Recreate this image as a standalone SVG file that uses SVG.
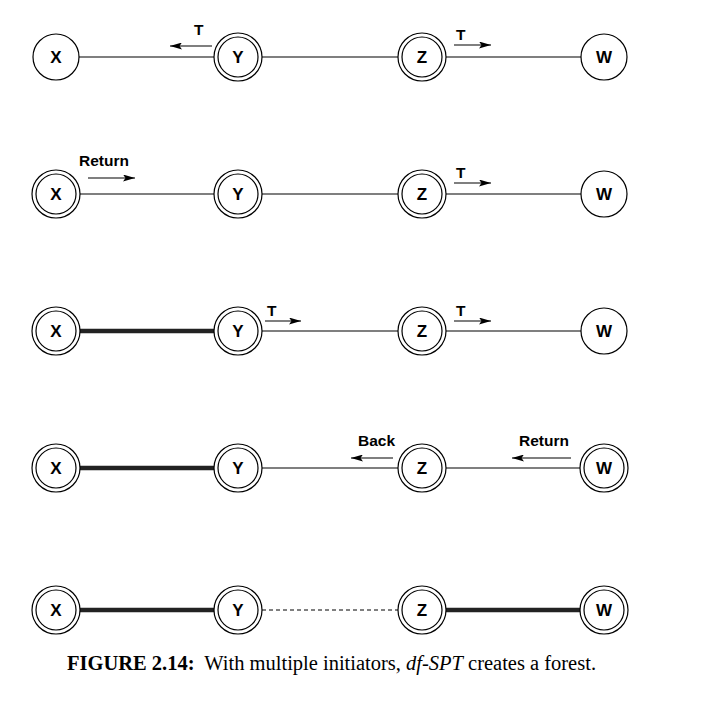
<svg xmlns="http://www.w3.org/2000/svg" width="724" height="707" viewBox="0 0 724 707">
<style>
.o{fill:#fff;stroke:#000;stroke-width:1.2}
.i{fill:none;stroke:#000;stroke-width:1.2}
.n{font-family:"Liberation Sans",Arial,sans-serif;font-weight:bold;font-size:17px;text-anchor:middle;fill:#000}
.l{font-family:"Liberation Sans",Arial,sans-serif;font-weight:bold;font-size:15.5px;fill:#000}
.e{stroke:#000;stroke-width:1.2;fill:none}
.t{stroke:#222;stroke-width:4.5;fill:none}
.d{stroke:#000;stroke-width:1;stroke-dasharray:4,3;fill:none}
.a{stroke:#000;stroke-width:1.2;fill:none;marker-end:url(#ah)}
.c{font-family:"Liberation Serif","Times New Roman",serif;font-size:20.5px;fill:#000}
</style>
<defs>
<marker id="ah" viewBox="0 0 12 7" refX="12" refY="3.5" markerWidth="12" markerHeight="7" markerUnits="userSpaceOnUse" orient="auto">
<path d="M0,0 L12,3.5 L0,7 L2.5,3.5 Z" fill="#000"/>
</marker>
</defs>
<g id="connectors">
<line class="e" x1="79" y1="57" x2="214" y2="57"/>
<line class="e" x1="262" y1="57" x2="398" y2="57"/>
<line class="e" x1="446" y1="57" x2="581" y2="57"/>
<line class="a" x1="212" y1="46" x2="170" y2="46"/>
<line class="a" x1="454" y1="45" x2="491" y2="45"/>
<line class="e" x1="80" y1="194" x2="214" y2="194"/>
<line class="e" x1="262" y1="194" x2="398" y2="194"/>
<line class="e" x1="446" y1="194" x2="581" y2="194"/>
<line class="a" x1="88" y1="178" x2="135" y2="178"/>
<line class="a" x1="454" y1="183" x2="491" y2="183"/>
<line class="t" x1="80" y1="331" x2="214" y2="331"/>
<line class="e" x1="262" y1="331" x2="398" y2="331" stroke="#555"/>
<line class="e" x1="446" y1="331" x2="581" y2="331" stroke="#555"/>
<line class="a" x1="265" y1="321" x2="301" y2="321"/>
<line class="a" x1="454" y1="321" x2="491" y2="321"/>
<line class="t" x1="80" y1="468" x2="214" y2="468"/>
<line class="e" x1="262" y1="468" x2="398" y2="468"/>
<line class="e" x1="446" y1="468" x2="580" y2="468"/>
<line class="a" x1="393" y1="458" x2="351" y2="458"/>
<line class="a" x1="571" y1="458" x2="512" y2="458"/>
<line class="t" x1="80" y1="610" x2="214" y2="610"/>
<line class="d" x1="262" y1="610" x2="398" y2="610"/>
<line class="t" x1="446" y1="610" x2="580" y2="610"/>
</g>
<g id="labels">
<text class="l" x="194" y="35">T</text>
<text class="l" x="456" y="40">T</text>
<text class="l" x="79" y="166">Return</text>
<text class="l" x="456" y="178">T</text>
<text class="l" x="267" y="316">T</text>
<text class="l" x="456" y="316">T</text>
<text class="l" x="358" y="446">Back</text>
<text class="l" x="519" y="446">Return</text>
</g>
<g id="X1"><circle class="o" cx="56" cy="57" r="23"/><text class="n" x="56" y="63">X</text></g>
<g id="Y1"><circle class="o" cx="238" cy="57" r="24"/><circle class="i" cx="238" cy="57" r="20"/><text class="n" x="238" y="63">Y</text></g>
<g id="Z1"><circle class="o" cx="422" cy="57" r="24"/><circle class="i" cx="422" cy="57" r="20"/><text class="n" x="422" y="63">Z</text></g>
<g id="W1"><circle class="o" cx="604" cy="57" r="23"/><text class="n" x="604" y="63">W</text></g>
<g id="X2"><circle class="o" cx="56" cy="194" r="24"/><circle class="i" cx="56" cy="194" r="20"/><text class="n" x="56" y="200">X</text></g>
<g id="Y2"><circle class="o" cx="238" cy="194" r="24"/><circle class="i" cx="238" cy="194" r="20"/><text class="n" x="238" y="200">Y</text></g>
<g id="Z2"><circle class="o" cx="422" cy="194" r="24"/><circle class="i" cx="422" cy="194" r="20"/><text class="n" x="422" y="200">Z</text></g>
<g id="W2"><circle class="o" cx="604" cy="194" r="23"/><text class="n" x="604" y="200">W</text></g>
<g id="X3"><circle class="o" cx="56" cy="331" r="24"/><circle class="i" cx="56" cy="331" r="20"/><text class="n" x="56" y="337">X</text></g>
<g id="Y3"><circle class="o" cx="238" cy="331" r="24"/><circle class="i" cx="238" cy="331" r="20"/><text class="n" x="238" y="337">Y</text></g>
<g id="Z3"><circle class="o" cx="422" cy="331" r="24"/><circle class="i" cx="422" cy="331" r="20"/><text class="n" x="422" y="337">Z</text></g>
<g id="W3"><circle class="o" cx="604" cy="331" r="23"/><text class="n" x="604" y="337">W</text></g>
<g id="X4"><circle class="o" cx="56" cy="468" r="24"/><circle class="i" cx="56" cy="468" r="20"/><text class="n" x="56" y="474">X</text></g>
<g id="Y4"><circle class="o" cx="238" cy="468" r="24"/><circle class="i" cx="238" cy="468" r="20"/><text class="n" x="238" y="474">Y</text></g>
<g id="Z4"><circle class="o" cx="422" cy="468" r="24"/><circle class="i" cx="422" cy="468" r="20"/><text class="n" x="422" y="474">Z</text></g>
<g id="W4"><circle class="o" cx="604" cy="468" r="24"/><circle class="i" cx="604" cy="468" r="20"/><text class="n" x="604" y="474">W</text></g>
<g id="X5"><circle class="o" cx="56" cy="610" r="24"/><circle class="i" cx="56" cy="610" r="20"/><text class="n" x="56" y="616">X</text></g>
<g id="Y5"><circle class="o" cx="238" cy="610" r="24"/><circle class="i" cx="238" cy="610" r="20"/><text class="n" x="238" y="616">Y</text></g>
<g id="Z5"><circle class="o" cx="422" cy="610" r="24"/><circle class="i" cx="422" cy="610" r="20"/><text class="n" x="422" y="616">Z</text></g>
<g id="W5"><circle class="o" cx="604" cy="610" r="24"/><circle class="i" cx="604" cy="610" r="20"/><text class="n" x="604" y="616">W</text></g>
<g id="caption">
<text class="c" x="67" y="670" xml:space="preserve" textLength="529" lengthAdjust="spacing"><tspan font-weight="bold">FIGURE 2.14:</tspan>  With multiple initiators, <tspan font-style="italic">df-SPT</tspan> creates a forest.</text>
</g>
</svg>
